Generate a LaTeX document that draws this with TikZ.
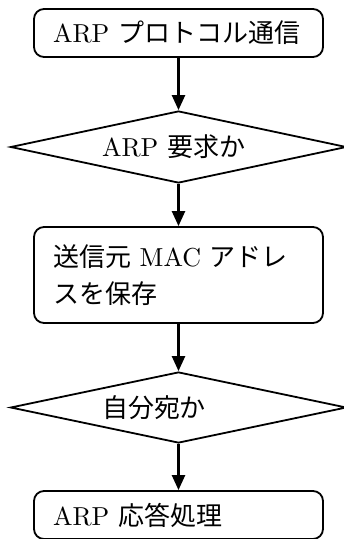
\documentclass[tikz,border=0pt]{standalone}
\usepackage{fontspec}
\setmainfont{lmroman10-regular}[Extension=.otf]
\newfontfamily\jp{Noto Sans CJK JP}
\usetikzlibrary{shapes.geometric,arrows.meta}
\begin{document}
\begin{tikzpicture}[x=1pt,y=-1pt,
  font=\fontsize{26pt}{37pt}\selectfont,
  procbox/.style={draw, line width=1.8pt, rounded corners=10pt, minimum width=289pt,
    text width=251pt, align=left, inner xsep=19pt, inner ysep=0pt},
  decide/.style={draw, diamond, aspect=4.67, line width=1.8pt, minimum width=336pt,
    minimum height=72pt, inner sep=0pt, text width=153pt, align=left},
  flow/.style={-{Triangle[length=15pt,width=13pt]}, line width=2.4pt}]
\useasboundingbox (0,0) rectangle (344,539);
\node[procbox, minimum height=48pt] (start) at (178.5,33) {ARP {\jp プロトコル通信}};
\node[decide] (q1) at (178.5,147) {ARP {\jp 要求か}};
\node[procbox, minimum height=96pt] (save) at (178.5,275) {{\jp 送信元} MAC {\jp アドレ}\\{\jp スを保存}};
\node[decide, minimum height=71pt] (q2) at (178.5,407.5) {{\jp 自分宛か}};
\node[procbox, minimum height=48pt] (reply) at (178.5,515) {ARP {\jp 応答処理}};
\draw[flow] (start) -- (q1);
\draw[flow] (q1) -- (save);
\draw[flow] (save) -- (q2);
\draw[flow] (q2) -- (reply);
\end{tikzpicture}
\end{document}
